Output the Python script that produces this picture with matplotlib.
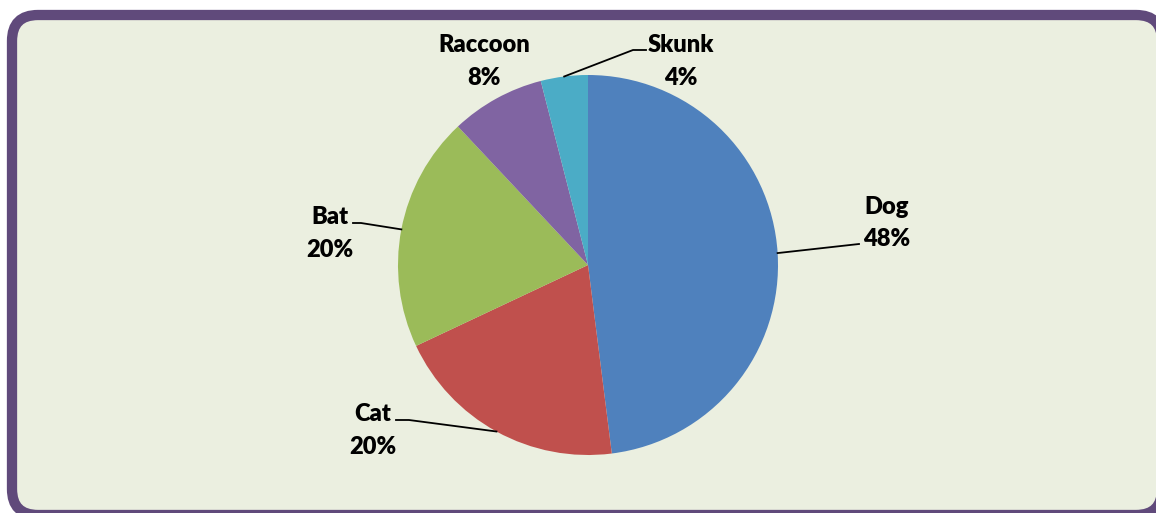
import numpy as np
import matplotlib.pyplot as plt
from matplotlib.patches import FancyBboxPatch

animals = ["Dog", "Cat", "Bat", "Raccoon", "Skunk"]
shares = [48, 20, 20, 8, 4]
colors = ["#4F81BD", "#C0504D", "#9BBB59", "#8064A2", "#4BACC6"]

# label placement in image pixels: (x center, name baseline, pct baseline)
label_pos = {
    "Dog": (887, 214, 246),
    "Cat": (373, 421, 454),
    "Bat": (330, 224, 257),
    "Raccoon": (484, 52, 85),
    "Skunk": (681, 52, 85),
}
# leader line: elbow point and end point (None = no leader)
leaders = {
    "Dog": [(859, 244)],
    "Cat": [(409, 420), (396, 420)],
    "Bat": [(361, 223), (353, 223)],
    "Raccoon": None,
    "Skunk": [(633, 50), (646, 50)],
}

W, H = 1156, 513
cx, cy, r = 588, 265, 190

fig = plt.figure(figsize=(W / 100, H / 100), dpi=100)
fig.patch.set_facecolor("white")
ax = fig.add_axes([0, 0, 1, 1])

frame = FancyBboxPatch((12, 15), 1150, 500, boxstyle="round,pad=0,rounding_size=26",
                       facecolor="#EBEFE0", edgecolor="#604A7B", linewidth=7.4, zorder=0)
ax.add_patch(frame)

# y axis is inverted below, so counterclockwise in data = clockwise on screen
wedges, _ = ax.pie(shares, colors=colors, startangle=-90, counterclock=True,
                   center=(cx, cy), radius=r, frame=True,
                   wedgeprops=dict(linewidth=0, zorder=2))

for w, name, val in zip(wedges, animals, shares):
    x, y1, y2 = label_pos[name]
    ax.text(x, y1, name, ha="center", va="baseline", fontsize=17,
            fontweight="heavy", family="Lato", zorder=4)
    ax.text(x, y2, f"{val}%", ha="center", va="baseline", fontsize=17,
            fontweight="heavy", family="Lato", zorder=4)
    if leaders[name]:
        mid = np.deg2rad((w.theta1 + w.theta2) / 2)
        pts = [(cx + r * np.cos(mid), cy + r * np.sin(mid))] + leaders[name]
        xs, ys = zip(*pts)
        ax.plot(xs, ys, color="black", lw=1.3, zorder=3)

ax.set_xlim(0, W)
ax.set_ylim(H, 0)
ax.set_aspect("equal")
ax.axis("off")

plt.savefig("out.png", dpi=100)
